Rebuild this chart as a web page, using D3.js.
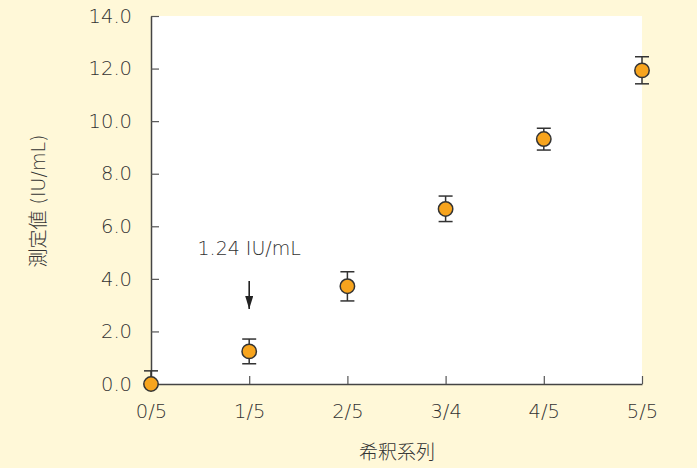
<!DOCTYPE html>
<html>
<head>
<meta charset="utf-8">
<script src="https://cdn.jsdelivr.net/npm/d3@7"></script>
<style>
  body { margin: 0; background: #fff8d8; }
  text { font-family: "DejaVu Sans", "Noto Sans CJK JP", sans-serif; fill: #333; font-weight: 300; }
</style>
</head>
<body>
<svg id="chart" width="697" height="468"></svg>
<script>
var width = 697;
var height = 468;
var margin = {top: 16, right: 55, bottom: 84, left: 151};

// dilution series
var categories = ["0/5", "1/5", "2/5", "3/4", "4/5", "5/5"];
var values = [0, 1.24, 3.72, 6.66, 9.32, 11.93];
var errLow = [0, 0.47, 0.56, 0.48, 0.42, 0.51];
var errHigh = [0.5, 0.47, 0.55, 0.49, 0.41, 0.52];
var yTicks = [0, 2, 4, 6, 8, 10, 12, 14];

// annotation on the 1/5 point
var noteCat = "1/5";
var noteText = "1.24 IU/mL";
var noteTextY = 4.9;
var arrowFrom = 3.92;
var arrowTo = 2.85;

var svg = d3.select("#chart");

svg.append("defs").append("marker")
  .attr("id", "arrow")
  .attr("viewBox", "0 0 10 10")
  .attr("preserveAspectRatio", "none")
  .attr("refX", 10).attr("refY", 5)
  .attr("markerWidth", 13).attr("markerHeight", 8)
  .attr("markerUnits", "userSpaceOnUse")
  .attr("orient", "auto")
  .append("path")
  .attr("d", "M0,0 L10,5 L0,10 Z")
  .attr("fill", "#222");

var x = d3.scalePoint()
  .domain(categories)
  .range([margin.left, width - margin.right]);

var y = d3.scaleLinear()
  .domain([0, 14])
  .range([height - margin.bottom, margin.top]);

// white plot area
svg.append("rect")
  .attr("x", x.range()[0])
  .attr("y", y(14))
  .attr("width", x.range()[1] - x.range()[0])
  .attr("height", y(0) - y(14))
  .attr("fill", "#fff");

var yAxis = svg.append("g")
  .attr("transform", "translate(" + margin.left + ",0)")
  .call(d3.axisLeft(y)
    .tickValues(yTicks)
    .tickFormat(d3.format(".1f"))
    .tickSizeInner(-8)
    .tickSizeOuter(0)
    .tickPadding(19));

var xAxis = svg.append("g")
  .attr("transform", "translate(0," + y(0) + ")")
  .call(d3.axisBottom(x)
    .tickSizeInner(-8)
    .tickSizeOuter(0)
    .tickPadding(20));

[yAxis, xAxis].forEach(function(g) {
  g.select(".domain").attr("stroke", "#444").attr("stroke-width", 1.5);
  g.selectAll(".tick line").attr("stroke", "#555").attr("stroke-width", 1.2);
  g.selectAll(".tick text")
    .attr("fill", "#333")
    .style("font-size", "19.5px")
    .style("font-weight", "300")
    .style("font-family", "'DejaVu Sans', sans-serif");
});

// error bars
var bars = svg.append("g").selectAll("g")
  .data(categories)
  .enter()
  .append("g")
  .attr("stroke", "#333")
  .attr("stroke-width", 1.5);

bars.append("line")
  .attr("x1", function(d) { return x(d); })
  .attr("x2", function(d) { return x(d); })
  .attr("y1", function(d, i) { return y(values[i] - errLow[i]); })
  .attr("y2", function(d, i) { return y(values[i] + errHigh[i]); });

bars.append("line")
  .attr("x1", function(d) { return x(d) - 7; })
  .attr("x2", function(d) { return x(d) + 7; })
  .attr("y1", function(d, i) { return y(values[i] + errHigh[i]); })
  .attr("y2", function(d, i) { return y(values[i] + errHigh[i]); });

bars.filter(function(d, i) { return errLow[i] > 0; })
  .append("line")
  .attr("x1", function(d) { return x(d) - 7; })
  .attr("x2", function(d) { return x(d) + 7; })
  .attr("y1", function(d) { var i = categories.indexOf(d); return y(values[i] - errLow[i]); })
  .attr("y2", function(d) { var i = categories.indexOf(d); return y(values[i] - errLow[i]); });

svg.append("g").selectAll("circle")
  .data(categories)
  .enter()
  .append("circle")
  .attr("cx", function(d) { return x(d); })
  .attr("cy", function(d, i) { return y(values[i]); })
  .attr("r", 7.2)
  .attr("fill", "#f7a41d")
  .attr("stroke", "#333")
  .attr("stroke-width", 1.5);

// annotation
svg.append("text")
  .attr("x", x(noteCat))
  .attr("y", y(noteTextY))
  .attr("text-anchor", "middle")
  .style("font-size", "19px")
  .text(noteText);

svg.append("line")
  .attr("x1", x(noteCat))
  .attr("x2", x(noteCat))
  .attr("y1", y(arrowFrom))
  .attr("y2", y(arrowTo))
  .attr("stroke", "#222")
  .attr("stroke-width", 1.6)
  .attr("marker-end", "url(#arrow)");

// axis titles
svg.append("text")
  .attr("x", (x.range()[0] + x.range()[1]) / 2 + 0.5)
  .attr("y", 459)
  .attr("text-anchor", "middle")
  .style("font-size", "19px")
  .text("希釈系列");

svg.append("text")
  .attr("transform", "translate(45," + 201 + ") rotate(-90)")
  .attr("text-anchor", "middle")
  .style("font-size", "19px")
  .text("測定値 (IU/mL)");
</script>
</body>
</html>
